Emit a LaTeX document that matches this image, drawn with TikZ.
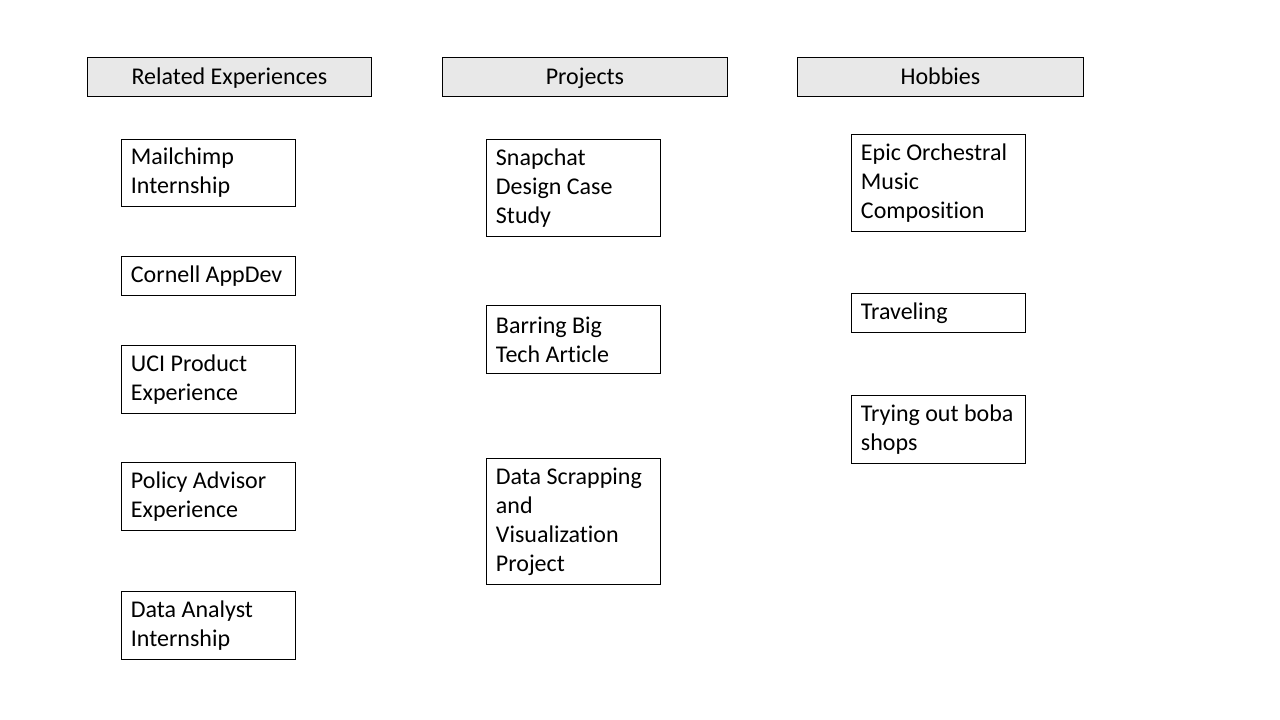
\documentclass[tikz,border=0pt]{standalone}
\usepackage{fontspec}
\setmainfont{Carlito}[Ligatures={NoCommon}]
\begin{document}
\begin{tikzpicture}[x=1pt,y=-1pt,
  hdr/.style={draw=black, line width=0.9pt, fill=gray!18, anchor=north west, inner sep=0pt,
    minimum height=39pt, text height=18pt, text depth=3pt, font=\fontsize{24}{29}\selectfont},
  item/.style={draw=black, line width=0.9pt, fill=white, anchor=north west, inner xsep=9.5pt, inner ysep=0pt,
    text width=155pt, align=flush left, font=\fontsize{24}{29}\selectfont},
]
\useasboundingbox[fill=white] (0,0) rectangle (1280,720);
\node[hdr, minimum width=284pt] (h1) at (87,57) {Related Experiences};
\node[hdr, minimum width=285pt] (h2) at (442,57) {Projects};
\node[hdr, minimum width=286pt] (h3) at (797,57) {Hobbies};

\node[item, minimum height=67pt] (a1) at (121,139) {Mailchimp\\Internship};
\node[item, minimum height=39pt] (a2) at (121,256) {Cornell AppDev};
\node[item, minimum height=68pt] (a3) at (121,345) {UCI Product\\Experience};
\node[item, minimum height=68pt] (a4) at (121,462) {Policy Advisor\\Experience};
\node[item, minimum height=68pt] (a5) at (121,591) {Data Analyst\\Internship};

\node[item, minimum height=97pt] (b1) at (486,139) {Snapchat\\Design Case\\Study};
\node[item, minimum height=68pt] (b2) at (486,305) {Barring Big\\Tech Article};
\node[item, minimum height=126pt] (b3) at (486,458) {Data Scrapping\\and\\Visualization\\Project};

\node[item, minimum height=97pt] (c1) at (851,134) {Epic Orchestral\\Music\\Composition};
\node[item, minimum height=39pt] (c2) at (851,293) {Traveling};
\node[item, minimum height=68pt] (c3) at (851,395) {Trying out boba\\shops};
\end{tikzpicture}
\end{document}
